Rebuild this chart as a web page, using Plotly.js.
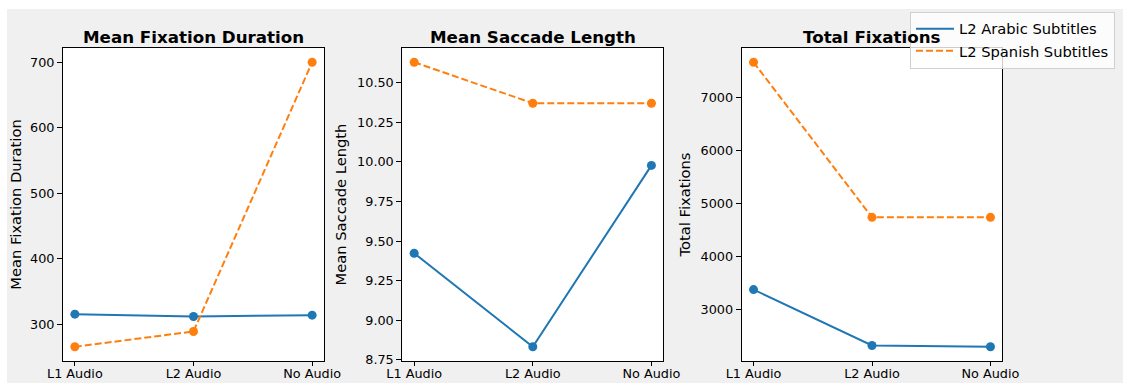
<!DOCTYPE html>
<html>
<head>
<meta charset="utf-8">
<script src="https://cdn.plot.ly/plotly-3.0.1.min.js"></script>
<style>
html,body{margin:0;padding:0;background:#ffffff;width:1128px;height:383px;overflow:hidden;}
#chart{position:absolute;left:7px;top:9px;width:1116px;height:374px;}
</style>
</head>
<body>
<div id="chart"></div>
<script>
const categories = ["L1 Audio", "L2 Audio", "No Audio"];
const seriesNames = ["L2 Arabic Subtitles", "L2 Spanish Subtitles"];

const fixationDurationArabic = [315.3, 311.7, 313.7];
const fixationDurationSpanish = [265.4, 288.8, 700.5];

const saccadeLengthArabic = [9.423, 8.832, 9.978];
const saccadeLengthSpanish = [10.63, 10.371, 10.371];

const totalFixationsArabic = [3377, 2321, 2296];
const totalFixationsSpanish = [7672, 4742, 4742];

const panelTitles = ["Mean Fixation Duration", "Mean Saccade Length", "Total Fixations"];
const yTitles = ["Mean Fixation Duration", "Mean Saccade Length", "Total Fixations"];

const blue = "#1f77b4", orange = "#ff7f0e";
const W = 1116, H = 374;
const xDomains = [[56/W, 317/W], [395.3/W, 656.3/W], [734.7/W, 995.3/W]];
const yDomain = [1 - 352/H, 1 - 39/H];

function pad(arrs){
  const all = [].concat(...arrs);
  const mn = Math.min(...all), mx = Math.max(...all);
  const r = mx - mn;
  return [mn - 0.05*r, mx + 0.05*r];
}

const panels = [
  {a: fixationDurationArabic, s: fixationDurationSpanish, dtick: 100, fmt: "d"},
  {a: saccadeLengthArabic, s: saccadeLengthSpanish, dtick: 0.25, fmt: ".2f"},
  {a: totalFixationsArabic, s: totalFixationsSpanish, dtick: 1000, fmt: "d"}
];

const lineTraces = [];
const markerTraces = [];
const layout = {
  width: W, height: H,
  margin: {l:0, r:0, t:0, b:0},
  paper_bgcolor: "#f0f0f0",
  plot_bgcolor: "#ffffff",
  font: {family: "DejaVu Sans", size: 12.8, color: "#000000"},
  showlegend: true,
  legend: {
    x: 903/W, y: 1 - 2.7/H, xanchor: "left", yanchor: "top",
    bgcolor: "rgba(255,255,255,0.8)", bordercolor: "#d0d0d0", borderwidth: 1,
    font: {family: "DejaVu Sans", size: 14.7, color: "#000000"},
    itemwidth: 38, tracegroupgap: 0
  },
  annotations: []
};

panels.forEach((p, i) => {
  const n = i === 0 ? "" : String(i+1);
  const xa = "x" + n, ya = "y" + n;
  [[p.a, blue, "solid", 0], [p.s, orange, "7px,3px", 1]].forEach(([vals, col, dash, k]) => {
    lineTraces.push({
      type: "scatter", mode: "lines", x: categories, y: vals,
      xaxis: xa, yaxis: ya, name: seriesNames[k], showlegend: i === 0,
      legendrank: k + 1,
      line: {color: col, width: 2, dash: dash}
    });
    markerTraces.push({
      type: "scatter", mode: "markers", x: categories, y: vals,
      xaxis: xa, yaxis: ya, name: seriesNames[k], showlegend: false,
      marker: {color: col, size: 9}
    });
  });
  const axCommon = {
    showline: true, mirror: true, linecolor: "#000000", linewidth: 1,
    ticks: "outside", ticklen: 5, tickwidth: 1, tickcolor: "#000000",
    showgrid: false, zeroline: false,
    tickfont: {family: "DejaVu Sans", size: 12.8, color: "#000000"}
  };
  layout["xaxis" + n] = Object.assign({}, axCommon, {
    domain: xDomains[i], anchor: ya, type: "category",
    range: [-0.1, 2.1], fixedrange: true, ticklen: 4, ticklabelstandoff: -3
  });
  layout["yaxis" + n] = Object.assign({}, axCommon, {
    domain: yDomain, anchor: xa, range: pad([p.a, p.s]),
    dtick: p.dtick, tick0: 0, tickformat: p.fmt,
    title: {text: yTitles[i], font: {family: "DejaVu Sans", size: 14.7, color: "#000000"}, standoff: 6}
  });
  layout.annotations.push({
    text: "<b>" + panelTitles[i] + "</b>",
    xref: "paper", yref: "paper",
    x: (xDomains[i][0] + xDomains[i][1]) / 2, y: 1 - 28/H,
    xanchor: "center", yanchor: "middle", showarrow: false,
    font: {family: "DejaVu Sans", size: 16.7, color: "#000000"}
  });
});

Plotly.newPlot("chart", lineTraces.concat(markerTraces), layout, {displayModeBar: false, staticPlot: true});
</script>
</body>
</html>
